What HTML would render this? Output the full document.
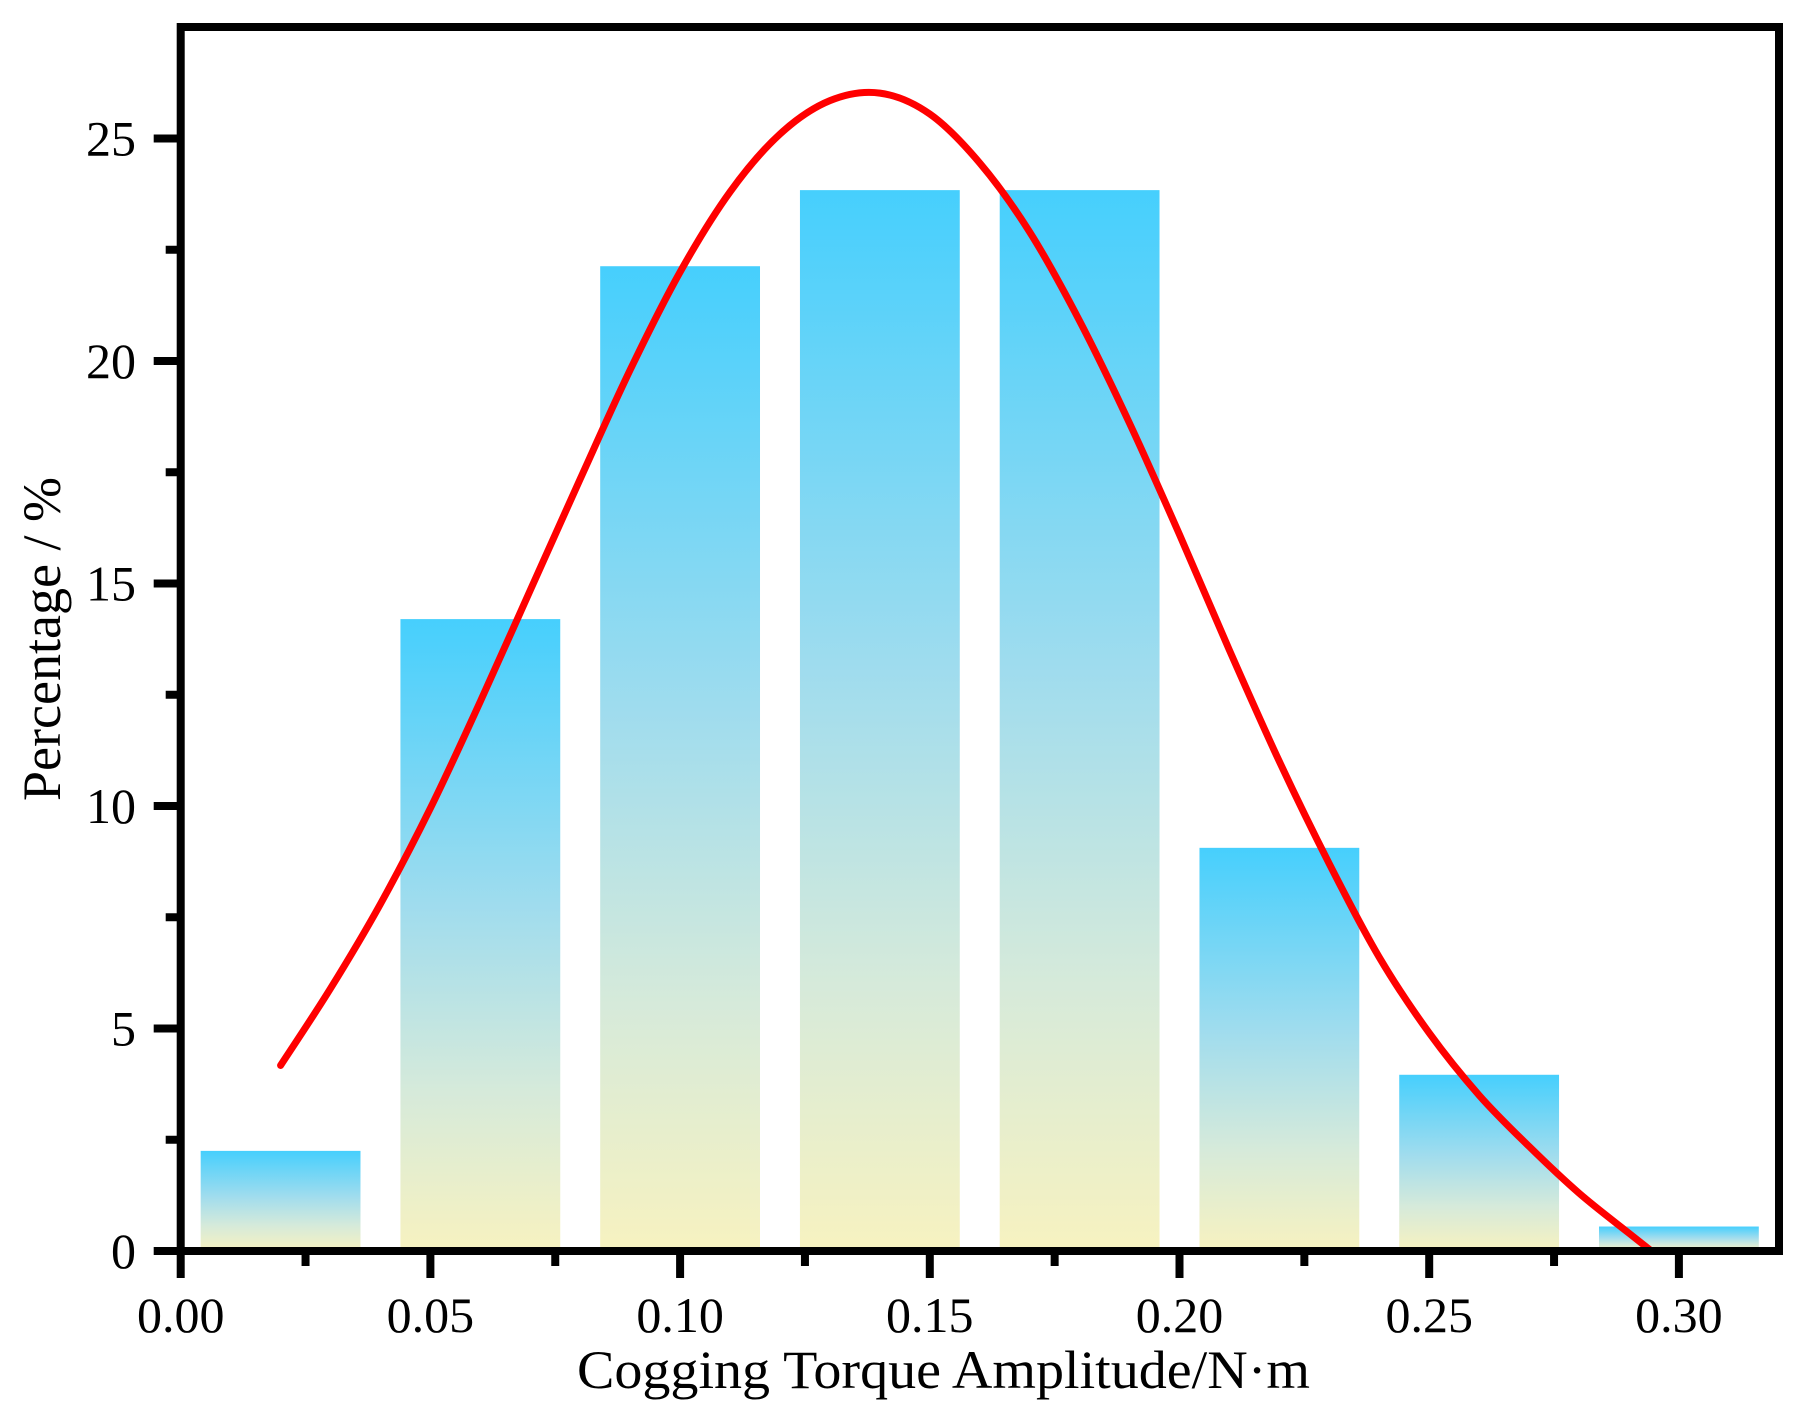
<!DOCTYPE html>
<html><head><meta charset="utf-8"><style>
html,body{margin:0;padding:0;background:#fff;}
svg{display:block;}
text{font-family:"Liberation Serif",serif;fill:#000;}
</style></head><body>
<svg id="chart" width="1802" height="1414" viewBox="0 0 1802 1414" xmlns="http://www.w3.org/2000/svg">
<defs>
<linearGradient id="barGrad" x1="0" y1="0" x2="0" y2="1">
<stop offset="0" stop-color="#46cffd"/>
<stop offset="0.45" stop-color="#9fdcee"/>
<stop offset="0.75" stop-color="#d6eada"/>
<stop offset="1" stop-color="#f7f2c0"/>
</linearGradient>
</defs>
<g id="bars"></g>
<g id="curve"></g>
<g id="axes"></g>
<text x="577" y="1388" font-size="54" textLength="733" lengthAdjust="spacingAndGlyphs">Cogging Torque Amplitude/N·m</text>
<text transform="translate(60,801) rotate(-90)" font-size="54" textLength="324" lengthAdjust="spacingAndGlyphs">Percentage / %</text>
</svg>
<script>
const binCenters = [0.02, 0.06, 0.10, 0.14, 0.18, 0.22, 0.26, 0.30];
const percentages = [2.25, 14.2, 22.13, 23.84, 23.84, 9.06, 3.96, 0.55];
const curveX = [0.02, 0.03, 0.04, 0.05, 0.06, 0.07, 0.08, 0.09, 0.10, 0.11, 0.12, 0.13, 0.14, 0.15, 0.16, 0.17, 0.18, 0.19, 0.20, 0.21, 0.22, 0.23, 0.24, 0.25, 0.26, 0.27, 0.28, 0.29, 0.2945];
const curveY = [4.17, 5.9, 7.8, 9.95, 12.35, 14.85, 17.35, 19.8, 22.0, 23.8, 25.1, 25.85, 26.02, 25.55, 24.45, 22.9, 20.9, 18.6, 16.1, 13.5, 11.0, 8.7, 6.6, 4.9, 3.5, 2.35, 1.3, 0.4, 0.0];
const xTicks = ["0.00","0.05","0.10","0.15","0.20","0.25","0.30"];
const yTicks = ["0","5","10","15","20","25"];

const NS = "http://www.w3.org/2000/svg";
const X0 = 180.7, XS = 4994, Y0 = 1251, YS = 44.5;
const xs = v => X0 + v * XS;
const ys = v => Y0 - v * YS;
const barW = 0.032;
function mk(tag, attrs, parent){const e=document.createElementNS(NS,tag);for(const k in attrs)e.setAttribute(k,attrs[k]);parent.appendChild(e);return e;}

const gb = document.getElementById('bars');
binCenters.forEach((c,i)=>{
  const r = mk('rect',{x:xs(c-barW/2),y:ys(percentages[i]),width:barW*XS,height:Y0-ys(percentages[i]),fill:'url(#barGrad)'},gb);
  
  
});

const pts = curveX.map((x,i)=>[xs(x),ys(curveY[i])]);
let d = 'M'+pts[0][0]+','+pts[0][1];
for(let i=0;i<pts.length-1;i++){
  const p0=pts[Math.max(0,i-1)],p1=pts[i],p2=pts[i+1],p3=pts[Math.min(pts.length-1,i+2)];
  const c1=[p1[0]+(p2[0]-p0[0])/6,p1[1]+(p2[1]-p0[1])/6];
  const c2=[p2[0]-(p3[0]-p1[0])/6,p2[1]-(p3[1]-p1[1])/6];
  d+=' C'+c1[0]+','+c1[1]+' '+c2[0]+','+c2[1]+' '+p2[0]+','+p2[1];
}
const cp = mk('path',{d:d,fill:'none',stroke:'#ff0000','stroke-width':7,'stroke-linecap':'round','stroke-linejoin':'round'},document.getElementById('curve'));



const ga = document.getElementById('axes');
const frame = mk('rect',{x:180.7,y:27,width:1598.3,height:1224,fill:'none',stroke:'#000','stroke-width':8},ga);


xTicks.forEach((t,i)=>{
  const v=i*0.05, x=xs(v);
  const tk = mk('line',{x1:x,y1:Y0,x2:x,y2:Y0+27,stroke:'#000','stroke-width':8},ga);
  
  
  if(i<xTicks.length-1){
    const mx=xs(v+0.025);
    const mt = mk('line',{x1:mx,y1:Y0,x2:mx,y2:Y0+15,stroke:'#000','stroke-width':8},ga);
    
    
  }
  const tx = mk('text',{x:x,y:1332,'font-size':50,'text-anchor':'middle'},ga);
  tx.textContent=t;
  
  
});
yTicks.forEach((t,i)=>{
  const v=+t, y=ys(v);
  const tk = mk('line',{x1:X0,y1:y,x2:X0-27,y2:y,stroke:'#000','stroke-width':8},ga);
  
  
  const mv=v+2.5;
  if(mv<27){
    const my=ys(mv);
    const mt = mk('line',{x1:X0,y1:my,x2:X0-15,y2:my,stroke:'#000','stroke-width':8},ga);
    
    
  }
  const tx = mk('text',{x:136,y:y+17,'font-size':50,'text-anchor':'end'},ga);
  tx.textContent=t;
  
  
});
</script>
</body></html>
